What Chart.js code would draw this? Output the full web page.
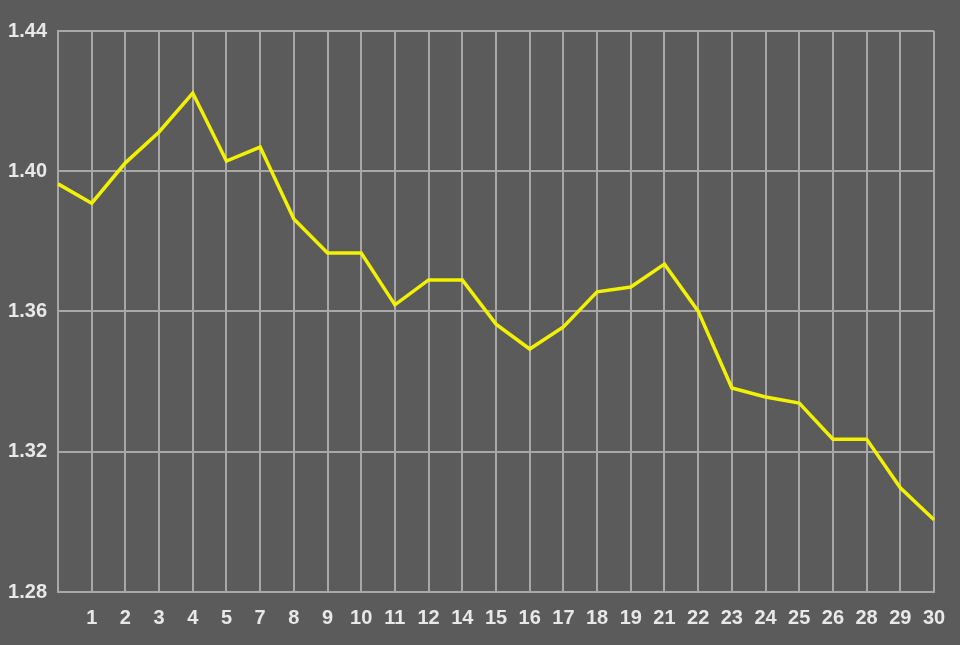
<!DOCTYPE html>
<html>
<head>
<meta charset="utf-8">
<script src="https://cdn.jsdelivr.net/npm/chart.js@4/dist/chart.umd.min.js"></script>
<style>
  html, body { margin: 0; padding: 0; background: #5b5b5b; }
  #wrap { width: 960px; height: 645px; position: relative; }
</style>
</head>
<body>
<div id="wrap"><canvas id="c" width="960" height="645"></canvas></div>
<script>
const dayLabels = ["", "1", "2", "3", "4", "5", "7", "8", "9", "10", "11", "12", "14", "15", "16", "17", "18", "19", "21", "22", "23", "24", "25", "26", "28", "29", "30"];
const rateValues = [1.3964, 1.3909, 1.4024, 1.4112, 1.4223, 1.4029, 1.4069, 1.3864, 1.3767, 1.3767, 1.3619, 1.3690, 1.3690, 1.3564, 1.3493, 1.3556, 1.3656, 1.3670, 1.3735, 1.3601, 1.3382, 1.3356, 1.3339, 1.3236, 1.3236, 1.3097, 1.3006];
const yTickValues = [1.28, 1.32, 1.36, 1.40, 1.44];

const bgPlugin = {
  id: 'bg',
  beforeDraw(chart) {
    const ctx = chart.ctx;
    ctx.save();
    ctx.fillStyle = '#5b5b5b';
    ctx.fillRect(0, 0, chart.width, chart.height);
    ctx.restore();
  }
};

const gridColor = '#a8a8a8';
const textColor = '#e8e8e8';
const font = { family: 'Liberation Sans', size: 20, weight: 'bold' };

new Chart(document.getElementById('c'), {
  type: 'line',
  data: {
    labels: dayLabels,
    datasets: [{
      data: rateValues,
      borderColor: '#f2f200',
      borderWidth: 3.5,
      pointRadius: 0,
      tension: 0,
      fill: false
    }]
  },
  options: {
    responsive: false,
    animation: false,
    events: [],
    layout: { padding: { top: 31, right: 26, left: 0, bottom: 0 } },
    plugins: { legend: { display: false }, tooltip: { enabled: false } },
    scales: {
      x: {
        type: 'category',
        offset: false,
        grid: { color: gridColor, lineWidth: 2, drawTicks: false },
        border: { color: gridColor, width: 2 },
        ticks: { color: textColor, font: font, padding: 14, autoSkip: false, maxRotation: 0, minRotation: 0 },
        afterFit(scale) { scale.height = 53; }
      },
      y: {
        min: 1.28,
        max: 1.44,
        afterBuildTicks(scale) { scale.ticks = yTickValues.map(v => ({ value: v })); },
        grid: { color: gridColor, lineWidth: 2, drawTicks: false },
        border: { color: gridColor, width: 2 },
        ticks: { color: textColor, font: font, padding: 11, callback: v => Number(v).toFixed(2) },
        afterFit(scale) { scale.width = 58; }
      }
    }
  },
  plugins: [bgPlugin]
});
</script>
</body>
</html>
